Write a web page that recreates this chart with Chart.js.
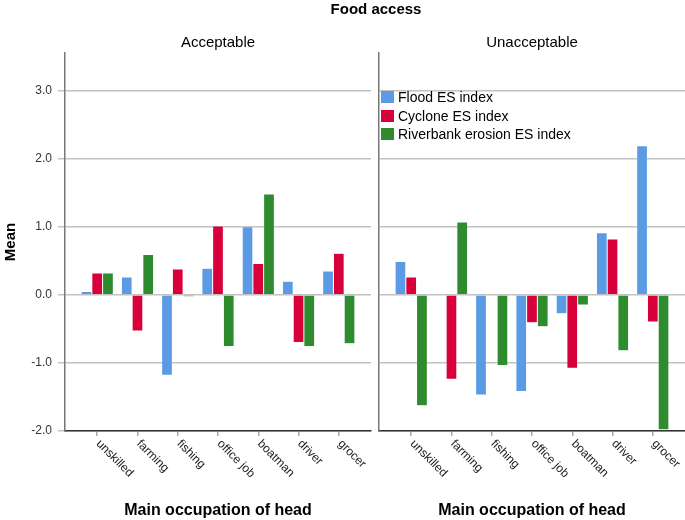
<!DOCTYPE html>
<html>
<head>
<meta charset="utf-8">
<script src="https://cdn.jsdelivr.net/npm/chart.js@4"></script>
<style>
  body { margin: 0; background: #fff; font-family: "Liberation Sans", Arial, sans-serif; }
  #wrap { position: relative; width: 685px; height: 520px; overflow: hidden; }
  canvas { position: absolute; top: 0; }
  .txt { position: absolute; color: #000; white-space: nowrap; transform: translate(-50%, -50%); }
  #legend { position: absolute; left: 381px; top: 91px; font-size: 14px; color: #000; }
  #legend div { height: 18.5px; line-height: 13px; }
  #legend span.sw { display: inline-block; width: 13px; height: 12px; margin-right: 4px; vertical-align: top; }
</style>
</head>
<body>
<div id="wrap">
  <canvas id="accChart" width="375" height="520" style="left:0"></canvas>
  <canvas id="unaChart" width="310" height="520" style="left:375px"></canvas>
  <div class="txt" style="left:376px;top:8px;font-size:15px;font-weight:bold">Food access</div>
  <div class="txt" style="left:218px;top:41px;font-size:15px">Acceptable</div>
  <div class="txt" style="left:532px;top:41px;font-size:15px">Unacceptable</div>
  <div id="legend"></div>
</div>
<script>
const CATEGORIES = ['unskilled', 'farming', 'fishing', 'office job', 'boatman', 'driver', 'grocer'];
const SERIES = ['Flood ES index', 'Cyclone ES index', 'Riverbank erosion ES index'];
const COLORS = ['#5b9be6', '#d8003a', '#2e8b2e'];
const Y_TICKS = [-2, -1, 0, 1, 2, 3];

// Food access: acceptable
const ACC_FLOOD   = [0.05, 0.26, -1.18, 0.39, 1.00, 0.20, 0.35];
const ACC_CYCLONE = [0.32, -0.53, 0.38, 1.01, 0.46, -0.70, 0.61];
const ACC_RIVER   = [0.32, 0.59, -0.03, -0.76, 1.48, -0.76, -0.72];

// Food access: unacceptable
const UNA_FLOOD   = [0.49, 0.01, -1.47, -1.42, -0.28, 0.91, 2.19];
const UNA_CYCLONE = [0.26, -1.24, 0.01, -0.41, -1.08, 0.82, -0.40];
const UNA_RIVER   = [-1.63, 1.07, -1.04, -0.47, -0.15, -0.82, -1.98];

var FONT = '"Liberation Sans", Arial, sans-serif';

// slanted category labels (rotated clockwise, starting at the tick)
var slantLabels = {
  id: 'slantLabels',
  afterDraw: function(chart) {
    var sc = chart.scales.x, ctx = chart.ctx;
    ctx.save();
    ctx.font = '12px ' + FONT;
    ctx.fillStyle = '#222';
    ctx.textAlign = 'left';
    ctx.textBaseline = 'middle';
    CATEGORIES.forEach(function(c, i) {
      var x = sc.getPixelForValue(i);
      ctx.save();
      ctx.translate(x + 1, sc.top + 11);
      ctx.rotate(Math.PI / 4);
      ctx.fillText(c, 0, 0);
      ctx.restore();
    });
    ctx.restore();
  }
};

function makeChart(id, series, showY) {
  var datasets = series.map(function(vals, k) {
    return {
      label: SERIES[k],
      data: vals.map(function(v, i) { return { x: i, y: v }; }),
      backgroundColor: COLORS[k],
      borderColor: 'rgba(255,255,255,0.5)',
      borderWidth: 0.5,
      categoryPercentage: 0.8,
      barPercentage: 1
    };
  });

  return new Chart(document.getElementById(id), {
    type: 'bar',
    data: { datasets: datasets },
    options: {
      responsive: false,
      animation: false,
      layout: { padding: { top: 53, right: showY ? 4 : 0, left: 0, bottom: 0 } },
      plugins: { legend: { display: false }, tooltip: { enabled: false } },
      scales: {
        x: {
          type: 'linear',
          min: -0.8,
          max: 6.8,
          offset: false,
          afterBuildTicks: function(s) { s.ticks = CATEGORIES.map(function(c, i) { return { value: i }; }); },
          afterFit: function(s) { s.height = 89; },
          ticks: { display: false },
          grid: { offset: false, drawOnChartArea: false, tickLength: 5, color: '#aaa', lineWidth: 1.5 },
          border: { color: '#333', width: 1.5 },
          title: { display: true, text: 'Main occupation of head', color: '#000', padding: { top: 0, bottom: 0 },
                   font: { family: FONT, size: 16, weight: 'bold' } }
        },
        y: {
          min: -2,
          max: 3.55,
          afterBuildTicks: function(s) { s.ticks = Y_TICKS.map(function(v) { return { value: v }; }); },
          afterFit: function(s) { s.width = showY ? 65 : 4; },
          ticks: { display: showY, color: '#333', padding: 6, font: { family: FONT, size: 12 },
                   callback: function(v) { return v.toFixed(1); } },
          grid: { color: '#c2c2c2', lineWidth: 1.5, drawTicks: showY, tickLength: 7 },
          border: { color: '#777', width: 1.5 },
          title: { display: showY, text: 'Mean', color: '#000', padding: { top: 2, bottom: 0 },
                   font: { family: FONT, size: 15, weight: 'bold' } }
        }
      }
    },
    plugins: [slantLabels]
  });
}

makeChart('accChart', [ACC_FLOOD, ACC_CYCLONE, ACC_RIVER], true);
makeChart('unaChart', [UNA_FLOOD, UNA_CYCLONE, UNA_RIVER], false);

var legend = document.getElementById('legend');
SERIES.forEach(function(s, k) {
  var row = document.createElement('div');
  row.innerHTML = '<span class="sw" style="background:' + COLORS[k] + '"></span>' + s;
  legend.appendChild(row);
});
</script>
</body>
</html>
